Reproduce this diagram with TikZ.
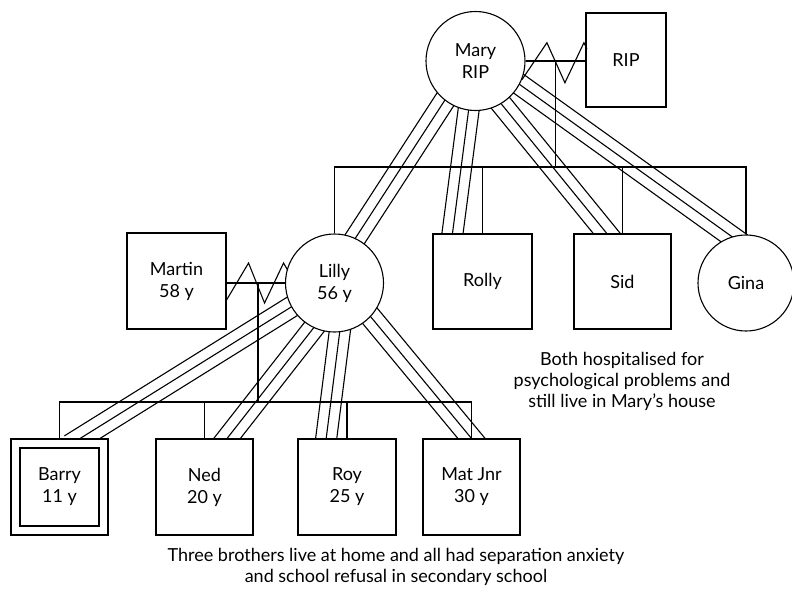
\documentclass[tikz,border=0pt]{standalone}
\usepackage{fontspec}
\setmainfont{Lato}
\usetikzlibrary{calc}
\pgfdeclarelayer{bg}
\pgfsetlayers{bg,main}
\newcommand\triline[2]{%
  \draw[tri] ($(#1)!10.5pt!90:(#2)$) -- ($(#2)!10.5pt!-90:(#1)$);
  \draw[tri] (#1) -- (#2);
  \draw[tri] ($(#1)!10.5pt!-90:(#2)$) -- ($(#2)!10.5pt!90:(#1)$);
}
\begin{document}
\begin{tikzpicture}[x=1pt,y=-1pt,
  every node/.style={font=\fontsize{18}{22}\selectfont},
  person/.style={draw, fill=white, line width=1.1pt, inner sep=0pt, align=center},
  female/.style={person, circle, minimum size=98pt},
  male/.style={person, rectangle, minimum width=98pt, minimum height=96pt},
  ln/.style={line width=1.1pt},
  tri/.style={line width=1.1pt, shorten <=-12pt, shorten >=-12pt},
  note/.style={align=center, font=\fontsize{18}{21}\selectfont}
]
\useasboundingbox (0,0) rectangle (792,592);

% generation 1
\node[female, minimum size=99pt] (mary) at (475.5,61) {Mary\\RIP};
\node[male, minimum width=80pt, minimum height=94pt] (rip) at (626,60) {RIP};

% generation 2
\node[male, minimum width=99pt] (martin) at (176.5,281) {Martin\\58 y};
\node[female] (lilly) at (334.5,283) {Lilly\\56 y};
\node[male, minimum width=99pt, minimum height=95pt] (rolly) at (482.5,281.5) {Rolly};
\node[male, minimum width=97pt, minimum height=95pt] (sid) at (622.5,281.5) {Sid};
\node[female, minimum size=96pt] (gina) at (746,283) {Gina};

% generation 3
\node[male, minimum width=97pt] (barry) at (59.5,487) {};
\node[person, minimum width=79pt, minimum height=78pt] (barryin) at (59.5,487) {Barry\\11 y};
\node[male, minimum width=97pt] (ned) at (204.5,487) {Ned\\20 y};
\node[male, minimum width=98pt] (roy) at (347,487) {Roy\\25 y};
\node[male, minimum width=97pt] (mat) at (471.5,487) {Mat Jnr\\30 y};

% notes
\node[note] (note1) at (622,381) {Both hospitalised for\\psychological problems and\\still live in Mary's house};
\node[note] (note2) at (396,567) {Three brothers live at home and all had separation anxiety\\and school refusal in secondary school};

% marriage Mary -- RIP
\draw[ln] (mary.east) -- (mary.east -| rip.west);
\draw[ln] (mary.-22) -- ++(25,-37) -- ++(18,40) -- ++(19,-40) -- ++(3,6);
\coordinate (m1) at ($(mary.east)!0.5!(mary.east -| rip.west)$);
\coordinate (sib1) at (0,167);
\draw[ln] (m1) -- (m1 |- sib1);
\draw[ln] (lilly.north) -- (lilly.north |- sib1) -- (gina.north |- sib1) -- (gina.north);
\draw[ln] (rolly.north) -- (rolly.north |- sib1);
\draw[ln] (sid.north) -- (sid.north |- sib1);

% marriage Martin -- Lilly
\draw[ln] (lilly.west -| martin.east) -- (lilly.west);
\draw[ln] ($(martin.east)+(0,19)$) -- ++(22,-37) -- ++(16,40) -- ++(19,-40) -- ++(4,7);
\coordinate (m2) at (258,283);
\coordinate (sib2) at (0,402);
\draw[ln] (m2) -- (m2 |- sib2);
\draw[ln] (barry.north) -- (barry.north |- sib2) -- (mat.north |- sib2) -- (mat.north);
\draw[ln] (ned.north) -- (ned.north |- sib2);
\draw[ln] (roy.north) -- (roy.north |- sib2);

% target points on boxes
\coordinate (rollyT) at ($(rolly.north west)!0.2!(rolly.north east)$);
\coordinate (sidT) at ($(sid.north west)!0.34!(sid.north east)$);
\coordinate (barryT) at ($(barry.north west)!0.71!(barry.north east)$);
\coordinate (nedT) at ($(ned.north west)!0.73!(ned.north east)$);
\coordinate (royT) at ($(roy.north west)!0.29!(roy.north east)$);

% enmeshed relationships (triple lines), drawn behind the people
\begin{pgfonlayer}{bg}
\triline{mary.232}{lilly.65}
\triline{mary.262}{rollyT}
\triline{mary.301}{sidT}
\triline{mary.332}{gina.107}
\triline{lilly.209}{barryT}
\triline{lilly.245}{nedT}
\triline{lilly.276}{royT}
\triline{lilly.317}{mat.north}
\end{pgfonlayer}
\end{tikzpicture}
\end{document}
